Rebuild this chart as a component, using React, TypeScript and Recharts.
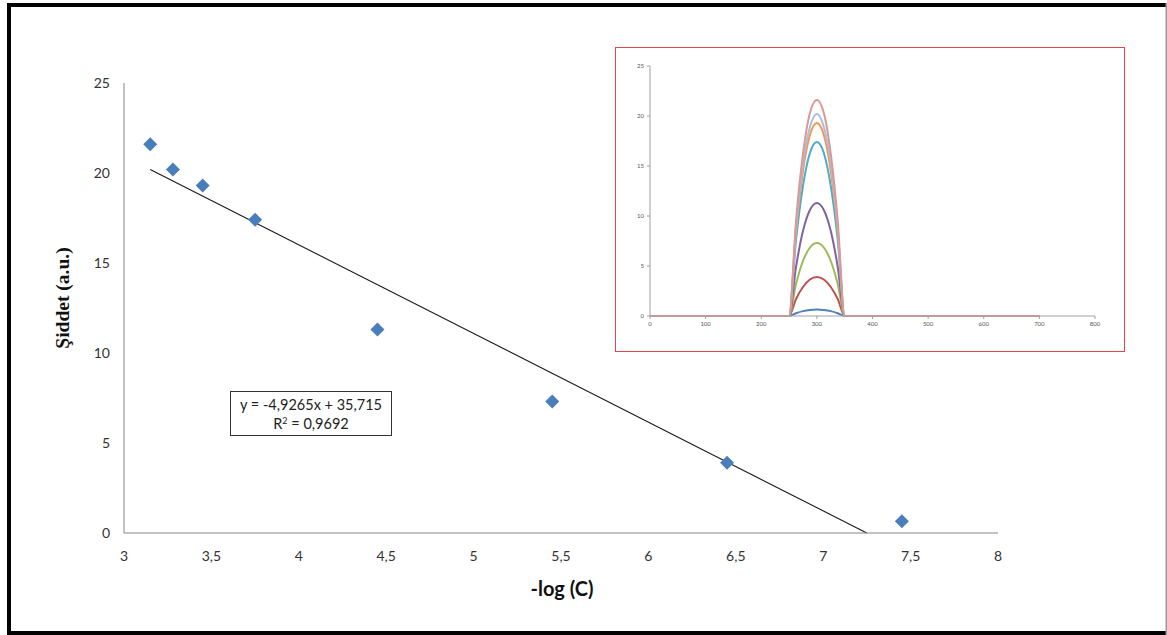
import React from 'react';
import { ScatterChart, Scatter, XAxis, YAxis, ReferenceLine, LineChart, Line } from 'recharts';

// ---- Main calibration chart data ----
const logC = [3.15, 3.28, 3.45, 3.75, 4.45, 5.45, 6.45, 7.45];
const intensity = [21.6, 20.2, 19.3, 17.4, 11.3, 7.3, 3.9, 0.65];
const xTicks = [3, 3.5, 4, 4.5, 5, 5.5, 6, 6.5, 7, 7.5, 8];
const yTicks = [0, 5, 10, 15, 20, 25];
const slope = -4.9265;
const intercept = 35.715;
const trendX = [3.15, 7.249];
const equationText = 'y = -4,9265x + 35,715';
const r2Text = '0,9692';

// ---- Inset spectra data ----
const wavelength = [0, 200, 250, 262.5, 275, 287.5, 300, 312.5, 325, 337.5, 350, 400, 700];
const spec1 = [0, 0, 0, 0.28, 0.49, 0.61, 0.65, 0.61, 0.49, 0.28, 0, 0, 0];
const spec2 = [0, 0, 0, 1.7, 2.9, 3.65, 3.9, 3.65, 2.9, 1.7, 0, 0, 0];
const spec3 = [0, 0, 0, 3.2, 5.5, 6.85, 7.3, 6.85, 5.5, 3.2, 0, 0, 0];
const spec4 = [0, 0, 0, 4.9, 8.5, 10.6, 11.3, 10.6, 8.5, 4.9, 0, 0, 0];
const spec5 = [0, 0, 0, 7.6, 13.0, 16.3, 17.4, 16.3, 13.0, 7.6, 0, 0, 0];
const spec6 = [0, 0, 0, 8.4, 14.5, 18.1, 19.3, 18.1, 14.5, 8.4, 0, 0, 0];
const spec7 = [0, 0, 0, 8.8, 15.2, 18.9, 20.2, 18.9, 15.2, 8.8, 0, 0, 0];
const spec8 = [0, 0, 0, 9.5, 16.2, 20.3, 21.6, 20.3, 16.2, 9.5, 0, 0, 0];
const specSeries = [spec1, spec2, spec3, spec4, spec5, spec6, spec7, spec8];
const specColors = ['#4F81BD', '#C0504D', '#9BBB59', '#8064A2', '#4BACC6', '#F79646', '#A9BDE3', '#DA9896'];
const insetXTicks = [0, 100, 200, 300, 400, 500, 600, 700, 800];
const insetYTicks = [0, 5, 10, 15, 20, 25];

const points = logC.map((x, i) => ({ x, y: intensity[i] }));
const specData = wavelength.map((w, i) => {
  const row: any = { w };
  specSeries.forEach((s, k) => { row['s' + k] = s[i]; });
  return row;
});

const comma = (v: number) => String(v).replace('.', ',');

const Diamond = (props: any) => {
  const { cx, cy } = props;
  const r = 7;
  return <path d={`M${cx},${cy - r}L${cx + r},${cy}L${cx},${cy + r}L${cx - r},${cy}Z`} fill="#4A7EBB" />;
};

const FONT = 'Lato, "Open Sans", sans-serif';

export default function App() {
  return (
    <div style={{ position: 'absolute', left: 0, top: 0, width: 1167, height: 635, background: '#fff', overflow: 'hidden' }}>
      <div style={{ position: 'absolute', left: 0, top: 0 }}>
        <ScatterChart width={1167} height={635} margin={{ top: 83, right: 169, bottom: 72, left: 64 }}>
          <XAxis
            type="number"
            dataKey="x"
            domain={[3, 8]}
            ticks={xTicks}
            interval={0}
            tickFormatter={comma}
            tickLine={false}
            tickSize={0}
            tickMargin={18}
            height={30}
            axisLine={{ stroke: '#868686', strokeWidth: 1 }}
            tick={{ fontSize: 14, fill: '#333', fontFamily: FONT }}
            allowDataOverflow
          />
          <YAxis
            type="number"
            dataKey="y"
            domain={[0, 25]}
            ticks={yTicks}
            interval={0}
            tickLine={false}
            tickSize={0}
            tickMargin={14}
            width={60}
            axisLine={{ stroke: '#868686', strokeWidth: 1 }}
            tick={{ fontSize: 14, fill: '#333', fontFamily: FONT }}
            allowDataOverflow
          />
          <ReferenceLine
            segment={[
              { x: trendX[0], y: slope * trendX[0] + intercept },
              { x: trendX[1], y: slope * trendX[1] + intercept },
            ]}
            stroke="#1a1a1a"
            strokeWidth={1.1}
            ifOverflow="visible"
          />
          <Scatter data={points} shape={<Diamond />} isAnimationActive={false} />
        </ScatterChart>
      </div>

      <div style={{ position: 'absolute', left: 615, top: 47, width: 511, height: 306, background: '#fff' }}>
        <LineChart width={511} height={306} data={specData} margin={{ top: 19, right: 31, bottom: 17, left: 10 }}>
          <XAxis
            type="number"
            dataKey="w"
            domain={[0, 800]}
            ticks={insetXTicks}
            interval={0}
            tickSize={3}
            tickMargin={3}
            height={20}
            stroke="#A0A0A0"
            tick={{ fontSize: 6, fill: '#555', fontFamily: FONT }}
          />
          <YAxis
            type="number"
            domain={[0, 25]}
            ticks={insetYTicks}
            interval={0}
            tickSize={3}
            tickMargin={3}
            width={25}
            stroke="#A0A0A0"
            tick={{ fontSize: 6, fill: '#555', fontFamily: FONT }}
          />
          {specSeries.map((_, k) => (
            <Line
              key={k}
              dataKey={'s' + k}
              type="monotone"
              stroke={specColors[k]}
              strokeWidth={2}
              dot={false}
              isAnimationActive={false}
            />
          ))}
        </LineChart>
        <div style={{ position: 'absolute', left: 0, top: 0, width: 508, height: 303, border: '1.5px solid #E2464B', pointerEvents: 'none' }} />
      </div>

      <svg width={1167} height={635} style={{ position: 'absolute', left: 0, top: 0, pointerEvents: 'none' }}>
        {/* frame */}
        <rect x={7} y={3} width={4} height={632} fill="#000" />
        <rect x={7} y={3} width={1160} height={4} fill="#000" />
        <rect x={7} y={631} width={1160} height={4} fill="#000" />
        <rect x={1165.5} y={3} width={1.5} height={632} fill="#9a9a9a" />
        {/* axis titles */}
        <text x={562} y={596} textAnchor="middle" fontFamily={FONT} fontWeight="bold" fontSize={20} fill="#111">-log (C)</text>
        <text
          x={0}
          y={0}
          transform="translate(69,298) rotate(-90)"
          textAnchor="middle"
          fontFamily='"Liberation Serif", "DejaVu Serif", serif'
          fontWeight="bold"
          fontSize={19.5}
          fill="#111"
        >
          Şiddet (a.u.)
        </text>
        {/* equation box */}
        <rect x={230.5} y={391.5} width={161} height={44} fill="#fff" stroke="#333" strokeWidth={1} />
        <text x={311} y={410} textAnchor="middle" fontFamily={FONT} fontSize={14.5} fill="#222">{equationText}</text>
        <text x={311} y={429} textAnchor="middle" fontFamily={FONT} fontSize={14.5} fill="#222">
          R<tspan dy={-5} fontSize={9}>2</tspan><tspan dy={5}> = {r2Text}</tspan>
        </text>
      </svg>
    </div>
  );
}
